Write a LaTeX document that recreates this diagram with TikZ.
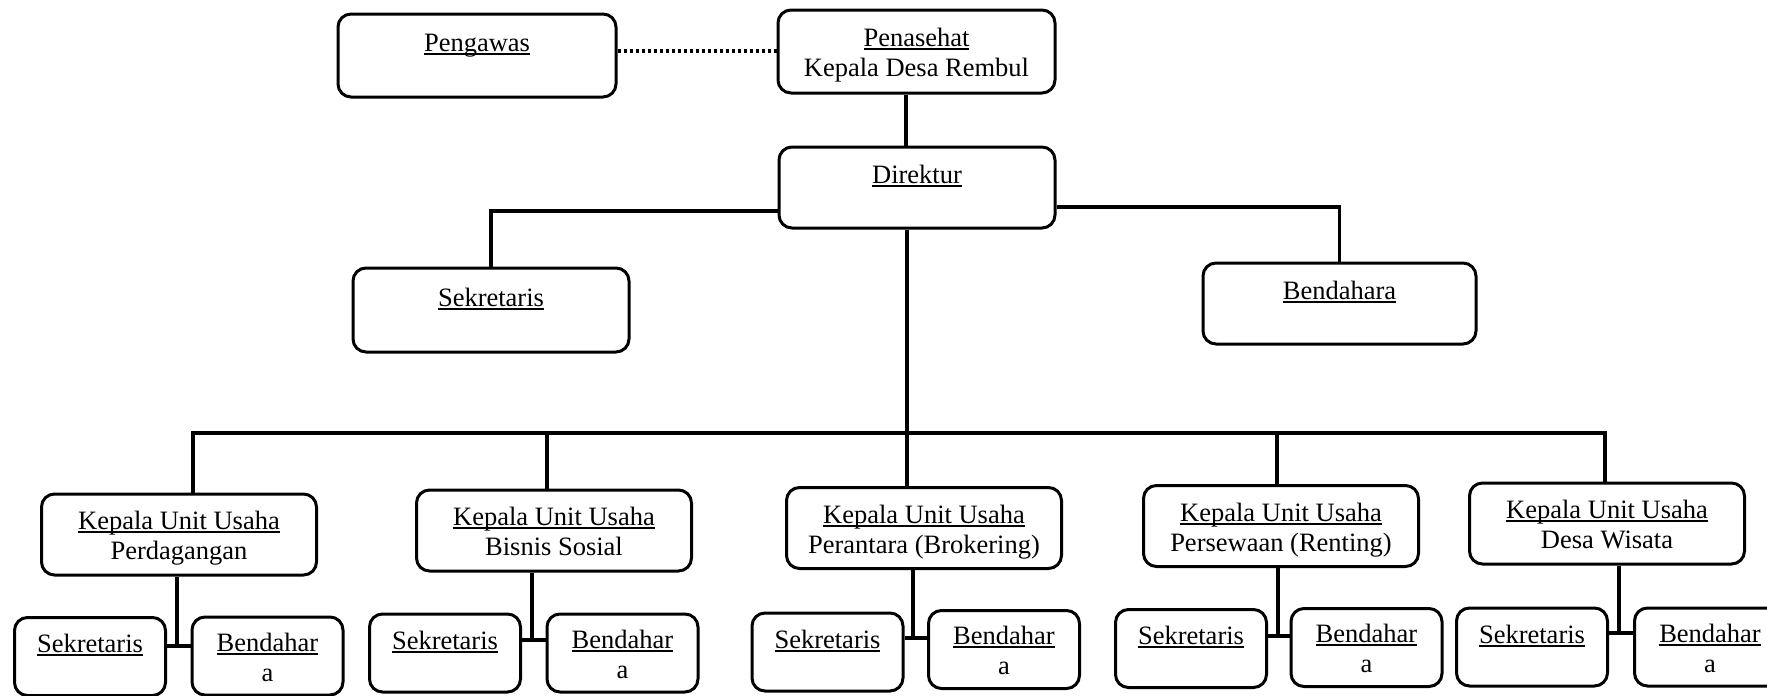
\documentclass[tikz,border=0pt]{standalone}
\usepackage{fontspec}
\setmainfont{Liberation Serif}
\newcommand\ulin[1]{\setbox0=\hbox{#1}\rlap{\rule[-3.5pt]{\wd0}{1.8pt}}\box0}
\begin{document}
\begin{tikzpicture}[x=1pt,y=-1pt,
  box/.style={draw,line width=3pt,rounded corners=13pt,inner sep=0pt,align=center,
    font=\fontsize{26.5pt}{30pt}\selectfont,text height=20pt,text depth=28pt,
    minimum width=276pt,minimum height=82pt},
  two/.style={text height=60pt,text depth=10pt},
  unit/.style={box,two,minimum width=275pt,minimum height=81pt},
  small/.style={box,minimum width=151pt,minimum height=78pt},
  conn/.style={line width=3.5pt},
  dotline/.style={line width=4pt,dash pattern=on 3pt off 3pt}]
\clip (0,0) rectangle (1767,696);
\fill[white] (0,0) rectangle (1767,696);

% top level
\node[box,minimum width=278pt,minimum height=83pt] (peng) at (477,55.5) {\ulin{Pengawas}};
\node[box,two,minimum width=277pt,minimum height=83pt] (pen) at (916.5,51.5) {\ulin{Penasehat}\\Kepala Desa Rembul};
\node[box,minimum width=276pt,minimum height=81pt] (dir) at (917,187.5) {\ulin{Direktur}};
\node[box,minimum width=276pt,minimum height=84pt] (sek) at (491,310) {\ulin{Sekretaris}};
\node[box,minimum width=273pt,minimum height=81pt] (ben) at (1339.5,303.5) {\ulin{Bendahara}};

% units
\node[unit] (u1) at (179,534.5) {\ulin{Kepala Unit Usaha}\\Perdagangan};
\node[unit] (u2) at (554,530.5) {\ulin{Kepala Unit Usaha}\\Bisnis Sosial};
\node[unit] (u3) at (924,528) {\ulin{Kepala Unit Usaha}\\Perantara (Brokering)};
\node[unit] (u4) at (1281,526) {\ulin{Kepala Unit Usaha}\\Persewaan (Renting)};
\node[unit] (u5) at (1607,523.5) {\ulin{Kepala Unit Usaha}\\Desa Wisata};

% unit staff
\node[small] (u1s) at (90,656.5) {\ulin{Sekretaris}};
\node[small,two] (u1b) at (267.5,656) {\ulin{Bendahar}\\a};
\node[small] (u2s) at (445,653) {\ulin{Sekretaris}};
\node[small,two] (u2b) at (622.5,653) {\ulin{Bendahar}\\a};
\node[small] (u3s) at (827.5,652) {\ulin{Sekretaris}};
\node[small,two] (u3b) at (1004,649.5) {\ulin{Bendahar}\\a};
\node[small] (u4s) at (1191,648.5) {\ulin{Sekretaris}};
\node[small,two] (u4b) at (1366.5,647.5) {\ulin{Bendahar}\\a};
\node[small] (u5s) at (1532,647) {\ulin{Sekretaris}};
\node[small,two] (u5b) at (1710,647) {\ulin{Bendahar}\\a};

% helper coordinates
\coordinate (dl) at (700,51);
\coordinate (cx) at (906,0);
\coordinate (lh) at (0,211);
\coordinate (rh) at (0,207);
\coordinate (b1) at (193,433);
\coordinate (b2) at (547,433);
\coordinate (b3) at (907,433);
\coordinate (b4) at (1277,433);
\coordinate (b5) at (1605,433);
\coordinate (j1) at (177,646);
\coordinate (j2) at (532,640);
\coordinate (j3) at (913,638);
\coordinate (j4) at (1278,636);
\coordinate (j5) at (1619,633);

% connectors
\draw[dotline] (peng.east |- dl) -- (pen.west |- dl);
\draw[conn] (pen.south -| cx) -- (dir.north -| cx);
\draw[conn] (dir.west |- lh) -| (sek.north);
\draw[conn] (dir.east |- rh) -| (ben.north);
\draw[conn] (dir.south -| b3) -- (b3);
\draw[conn] (u1.north -| b1) -- (b1) -- (b5) -- (u5.north -| b5);
\draw[conn] (b2) -- (u2.north -| b2);
\draw[conn] (b3) -- (u3.north -| b3);
\draw[conn] (b4) -- (u4.north -| b4);
\foreach \i in {1,...,5}{
  \draw[conn] (u\i.south -| j\i) -- (j\i);
  \draw[conn] (u\i s.east |- j\i) -- (u\i b.west |- j\i);
}
\end{tikzpicture}
\end{document}
